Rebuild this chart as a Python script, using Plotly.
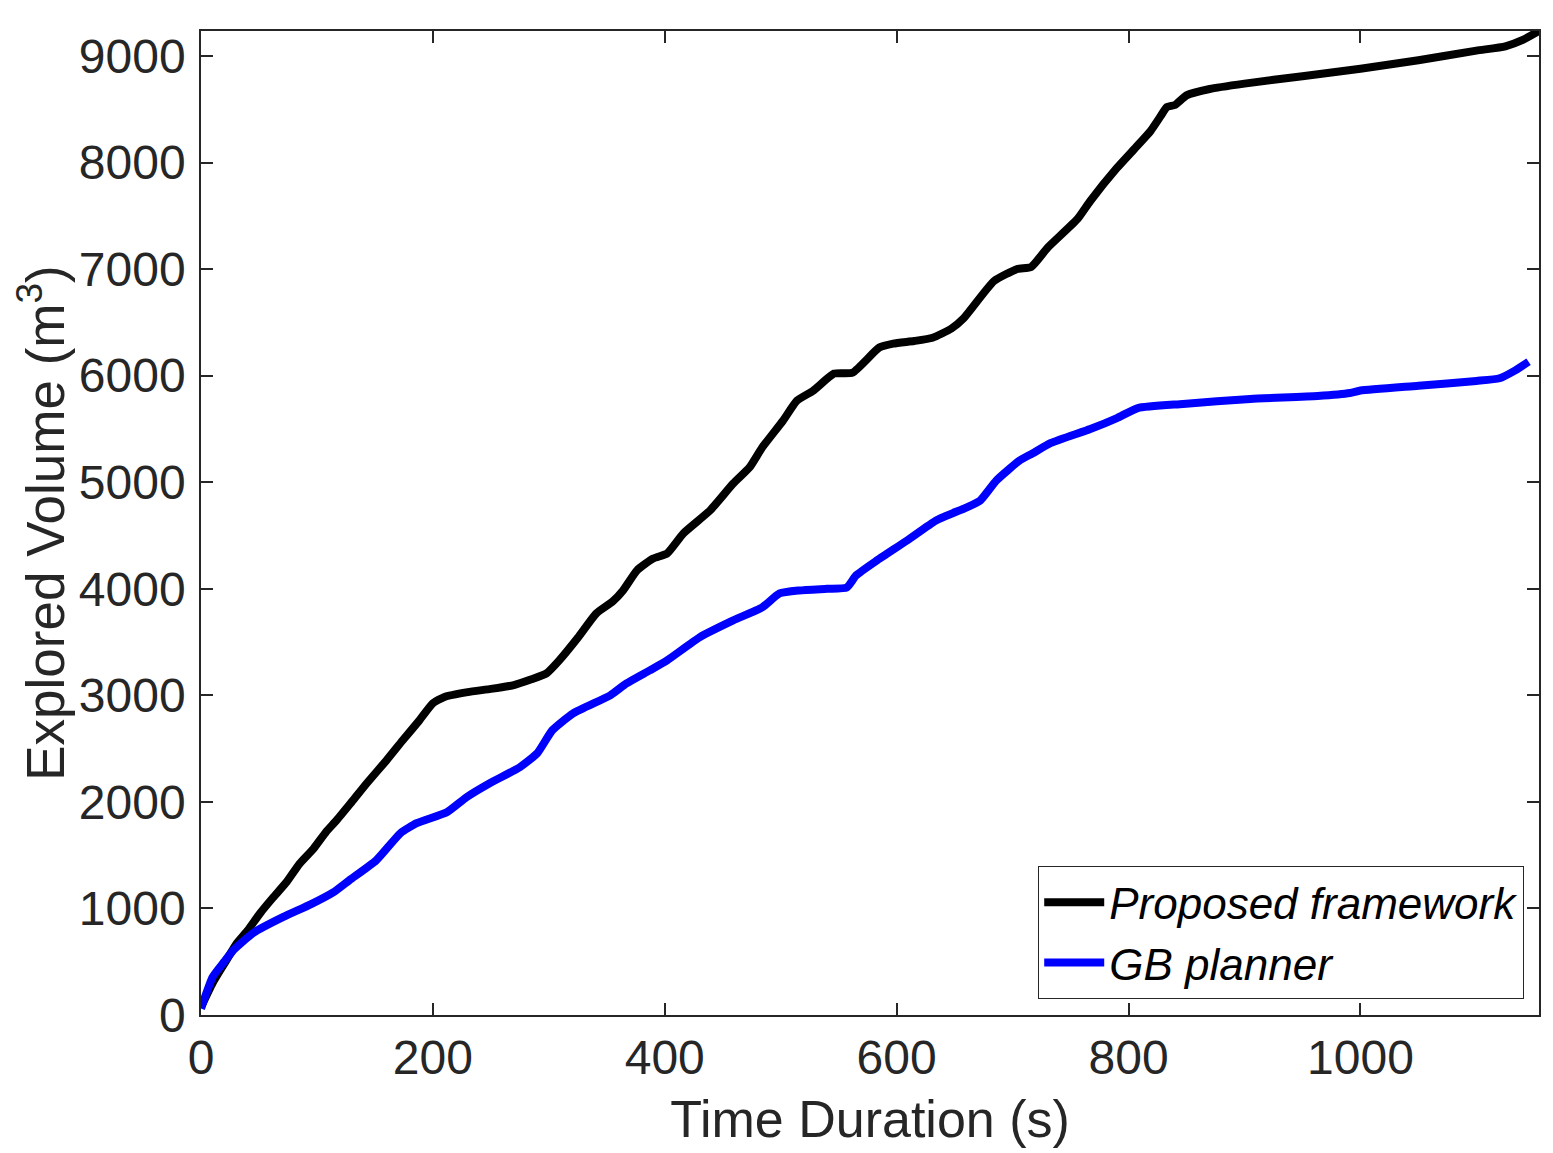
import plotly.graph_objects as go

# Proposed framework
time_proposed = [0, 10, 20, 31, 40, 51, 62, 74, 85, 97, 108, 117, 130, 143, 160, 174, 188,
                 200, 210, 230, 250, 269, 285, 298, 309, 325, 341, 355, 364, 376, 390, 402,
                 416, 439, 459, 473, 484, 502, 514, 528, 546, 562, 585, 597, 615, 631, 647,
                 658, 684, 704, 716, 730, 756, 767, 790, 805, 819, 828, 833, 840, 850, 870,
                 900, 950, 1000, 1050, 1100, 1125, 1140, 1154]
vol_proposed = [75, 300, 480, 675, 790, 955, 1100, 1250, 1420, 1560, 1720, 1828, 2000, 2175,
                2390, 2578, 2760, 2925, 2985, 3030, 3060, 3094, 3150, 3206, 3328, 3540, 3769,
                3880, 3984, 4172, 4284, 4331, 4519, 4734, 4987, 5137, 5325, 5578, 5765, 5859,
                6019, 6028, 6263, 6300, 6325, 6356, 6440, 6541, 6888, 7001, 7020, 7198, 7470,
                7639, 7949, 8127, 8296, 8440, 8520, 8540, 8630, 8690, 8740, 8810, 8880, 8960,
                9050, 9090, 9150, 9234]

# GB planner
time_gb = [0, 10, 20, 28, 45, 71, 95, 114, 128, 151, 172, 186, 212, 229, 249, 275, 290, 303,
           321, 353, 367, 387, 402, 430, 459, 484, 499, 516, 540, 557, 565, 583, 609, 634,
           660, 672, 686, 706, 717, 733, 767, 790, 808, 847, 905, 963, 991, 1000, 1050, 1100,
           1120, 1132, 1145]
vol_gb = [60, 356, 500, 610, 770, 920, 1040, 1150, 1265, 1450, 1706, 1800, 1903, 2044, 2175,
          2325, 2456, 2672, 2831, 3000, 3112, 3234, 3328, 3544, 3703, 3825, 3956, 3984, 4000,
          4012, 4125, 4266, 4453, 4641, 4762, 4828, 5016, 5203, 5269, 5368, 5499, 5602, 5696,
          5734, 5781, 5809, 5837, 5860, 5905, 5950, 5975, 6040, 6130]

x_ticks = [0, 200, 400, 600, 800, 1000]
y_ticks = [0, 1000, 2000, 3000, 4000, 5000, 6000, 7000, 8000, 9000]

FONT = "Liberation Sans, Arial, Helvetica, sans-serif"
AX = "#262626"

fig = go.Figure()
fig.add_trace(go.Scatter(x=time_proposed, y=vol_proposed, mode="lines",
                         name="Proposed framework",
                         line=dict(color="black", width=8, shape="spline", smoothing=0.5)))
fig.add_trace(go.Scatter(x=time_gb, y=vol_gb, mode="lines", name="GB planner",
                         line=dict(color="#0000ff", width=8, shape="spline", smoothing=0.5)))

axis_common = dict(
    showline=True, linecolor=AX, linewidth=1.5, mirror="ticks",
    ticks="inside", ticklen=12, tickwidth=1.5, tickcolor=AX,
    showgrid=False, zeroline=False,
    tickfont=dict(family=FONT, size=48, color=AX),
)

fig.update_xaxes(range=[0, 1154], tickvals=x_ticks,
                 title=dict(text="Time Duration (s)", standoff=17,
                            font=dict(family=FONT, size=52, color=AX)),
                 **axis_common)
fig.update_yaxes(range=[0, 9234], tickvals=y_ticks, ticklabelstandoff=4,
                 title=dict(text="Explored Volume (m<sup>3</sup>)",
                            font=dict(family=FONT, size=53, color=AX)),
                 **axis_common)

# page has an 8px body margin, so the plot area is placed 7px up/left
fig.update_layout(
    width=1553, height=1153,
    margin=dict(l=193, r=22, t=23, b=146, autoexpand=False),
    plot_bgcolor="white", paper_bgcolor="white",
    legend=dict(x=0.9888, y=0.0163, xanchor="right", yanchor="bottom",
                bordercolor=AX, borderwidth=1.2, bgcolor="white", itemwidth=60,
                font=dict(family=FONT, size=44, color="black", style="italic")),
)

fig.write_html("out.html")
